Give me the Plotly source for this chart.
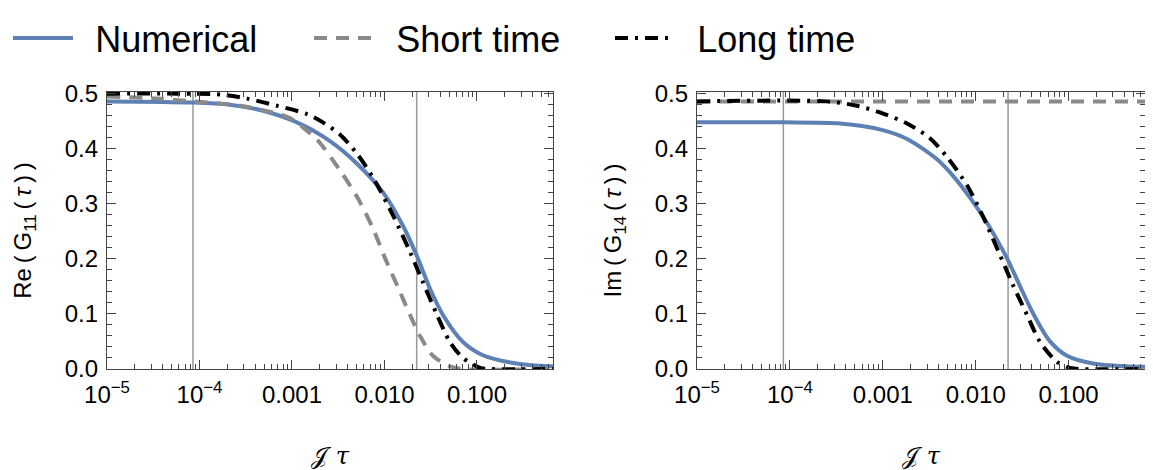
import plotly.graph_objects as go

# ---------------- data ----------------
# Left panel: Re(G11(tau))
tau_num_L = [1e-5, 8.5e-5, 2.14e-4, 4.86e-4, 1.13e-3, 2.58e-3, 5.05e-3, 9.64e-3,
             1.58e-2, 2.24e-2, 3.1e-2, 4.29e-2, 7.06e-2, 0.116, 0.245, 0.615, 0.664]
val_num_L = [0.485, 0.483, 0.479, 0.468, 0.447, 0.413, 0.372, 0.320,
             0.260, 0.205, 0.146, 0.098, 0.049, 0.025, 0.011, 0.005, 0.005]

tau_short_L = [1e-5, 3.47e-5, 8.5e-5, 2.74e-4, 6.89e-4, 9.5e-4, 1.31e-3, 1.91e-3, 3.3e-3,
               5.05e-3, 7.5e-3, 1.02e-2, 1.4e-2, 1.89e-2, 2.42e-2, 3.34e-2, 5.1e-2, 7.08e-2, 0.664]
val_short_L = [0.494, 0.490, 0.485, 0.477, 0.463, 0.455, 0.438, 0.414, 0.360,
               0.312, 0.255, 0.200, 0.148, 0.098, 0.060, 0.024, 0.005, 0.0, 0.0]

tau_long_L = [1e-5, 6.15e-5, 1.8e-4, 3.27e-4, 6.89e-4, 1.45e-3, 2.16e-3, 3.3e-3, 5.05e-3,
              7.5e-3, 1.24e-2, 1.89e-2, 2.61e-2, 3.7e-2, 5.1e-2, 7.06e-2, 0.108, 0.138, 0.664]
val_long_L = [0.499, 0.499, 0.497, 0.490, 0.477, 0.462, 0.447, 0.425, 0.390,
              0.347, 0.278, 0.212, 0.157, 0.098, 0.049, 0.020, 0.002, 0.0, 0.0]

# Right panel: Im(G14(tau))
tau_num_R = [1e-5, 8.4e-5, 3.46e-4, 1.0e-3, 1.87e-3, 3.83e-3, 5.7e-3, 8.9e-3, 1.32e-2,
             1.83e-2, 2.23e-2, 3.0e-2, 4.14e-2, 6.3e-2, 9.6e-2, 0.183, 0.545, 0.664]
val_num_R = [0.447, 0.447, 0.445, 0.433, 0.416, 0.380, 0.350, 0.308, 0.265,
             0.224, 0.197, 0.150, 0.101, 0.050, 0.024, 0.010, 0.004, 0.004]

tau_short_R = [1e-5, 0.664]
val_short_R = [0.485, 0.485]

tau_long_R = [1e-5, 2.5e-4, 5.27e-4, 9.3e-4, 1.82e-3, 3.22e-3, 5.03e-3, 8.26e-3, 1.2e-2,
              1.83e-2, 2.52e-2, 3.57e-2, 4.92e-2, 7.5e-2, 0.1035, 0.133, 0.664]
val_long_R = [0.485, 0.485, 0.477, 0.465, 0.445, 0.418, 0.382, 0.330, 0.276,
              0.206, 0.152, 0.098, 0.049, 0.013, 0.002, 0.0, 0.0]

# vertical reference lines (tau values)
vlines = [8.5e-5, 2.23e-2]

# tick labels
x_tickvals = [1e-5, 1e-4, 1e-3, 1e-2, 1e-1]
x_ticktext = ["10<sup>\u22125</sup>", "10<sup>\u22124</sup>", "0.001", "0.010", "0.100"]
x_minor_ticks = [2e-5, 3e-5, 4e-5, 5e-5, 6e-5, 7e-5, 8e-5, 9e-5,
                 2e-4, 3e-4, 4e-4, 5e-4, 6e-4, 7e-4, 8e-4, 9e-4,
                 2e-3, 3e-3, 4e-3, 5e-3, 6e-3, 7e-3, 8e-3, 9e-3,
                 2e-2, 3e-2, 4e-2, 5e-2, 6e-2, 7e-2, 8e-2, 9e-2,
                 0.2, 0.3, 0.4, 0.5, 0.6]

series_names = ["Numerical", "Short time", "Long time"]
y_titles = ["Re\u2009(\u2009G<sub>11</sub>\u2009(\u2009<i>\u03c4</i>\u2009)\u2009)",
            "Im\u2009(\u2009G<sub>14</sub>\u2009(\u2009<i>\u03c4</i>\u2009)\u2009)"]
x_title = "\U0001D4A5 <i>\u03c4</i>"

# ---------------- styling ----------------
BLUE = "#5E81B5"
GRAY = "#8a8a8a"
BLACK = "#000000"
FRAME = "#444444"
FONT = "Liberation Sans, Arial, sans-serif"
X_RANGE = [-5, -0.178]
Y_RANGE = [0, 0.502]
GAP = "\u00a0\u2009"

# the page body adds an 8px offset; the figure is laid out to compensate
W, H = 1145, 462

fig = go.Figure()

panels = [
    ("x", "y", "x3", tau_num_L, val_num_L, tau_short_L, val_short_L, tau_long_L, val_long_L, True),
    ("x2", "y2", "x4", tau_num_R, val_num_R, tau_short_R, val_short_R, tau_long_R, val_long_R, False),
]

for xa, ya, xm, tn, vn, ts, vs, tl, vl, legend in panels:
    for v in vlines:
        fig.add_trace(go.Scatter(x=[v, v], y=Y_RANGE, mode="lines", xaxis=xa, yaxis=ya,
                                 line=dict(color="#999999", width=1.5), showlegend=False,
                                 hoverinfo="skip"))
    fig.add_trace(go.Scatter(x=tn, y=vn, mode="lines", name=GAP + series_names[0], xaxis=xa, yaxis=ya,
                             line=dict(color=BLUE, width=4, shape="spline", smoothing=0.8),
                             showlegend=legend))
    fig.add_trace(go.Scatter(x=ts, y=vs, mode="lines", name=GAP + series_names[1], xaxis=xa, yaxis=ya,
                             line=dict(color=GRAY, width=4, dash="13px,9px", shape="spline", smoothing=0.8),
                             showlegend=legend))
    fig.add_trace(go.Scatter(x=tl, y=vl, mode="lines", name=GAP + series_names[2], xaxis=xa, yaxis=ya,
                             line=dict(color=BLACK, width=4, dash="13px,7px,3px,7px", shape="spline", smoothing=0.8),
                             showlegend=legend))
    # invisible anchor trace so the minor-tick overlay axis is drawn
    fig.add_trace(go.Scatter(x=[tn[0]], y=[vn[0]], mode="markers", xaxis=xm, yaxis=ya,
                             marker=dict(opacity=0, size=1), showlegend=False, hoverinfo="skip"))

xaxis_common = dict(
    type="log", range=X_RANGE, automargin=False,
    tickmode="array", tickvals=x_tickvals, ticktext=x_ticktext,
    ticks="inside", ticklen=9, tickwidth=1, tickcolor=FRAME,
    showline=True, linecolor=FRAME, linewidth=1.2, mirror="ticks",
    showgrid=False, zeroline=False,
    tickfont=dict(family=FONT, size=24, color="#000"),
    ticklabelstandoff=4,
    title=dict(text=x_title, font=dict(family="DejaVu Serif, Liberation Serif, serif", size=24, color="#000"),
               standoff=40),
)
xminor_common = dict(
    type="log", range=X_RANGE, automargin=False,
    tickmode="array", tickvals=x_minor_ticks, showticklabels=False,
    ticks="inside", ticklen=5, tickwidth=1, tickcolor=FRAME,
    showline=False, mirror="ticks", showgrid=False, zeroline=False,
)
yaxis_common = dict(
    range=Y_RANGE, automargin=False,
    tickmode="linear", tick0=0, dtick=0.1, tickformat=".1f",
    ticks="inside", ticklen=9, tickwidth=1, tickcolor=FRAME,
    showline=True, linecolor=FRAME, linewidth=1.2, mirror="ticks",
    showgrid=False, zeroline=False,
    tickfont=dict(family=FONT, size=24, color="#000"),
    ticklabelstandoff=3,
    minor=dict(ticks="inside", ticklen=5, tickcolor=FRAME, dtick=0.02, showgrid=False),
)

XDOM_L = [99 / W, 545 / W]
XDOM_R = [689 / W, 1137 / W]
YDOM = [1 - 361 / H, 1 - 84 / H]
fig.update_layout(
    width=W, height=H,
    margin=dict(l=0, r=0, t=0, b=0, autoexpand=False),
    paper_bgcolor="white", plot_bgcolor="white",
    font=dict(family=FONT, color="#000"),
    xaxis=dict(domain=XDOM_L, anchor="y", **xaxis_common),
    xaxis2=dict(domain=XDOM_R, anchor="y2", **xaxis_common),
    xaxis3=dict(domain=XDOM_L, anchor="y", overlaying="x", **xminor_common),
    xaxis4=dict(domain=XDOM_R, anchor="y2", overlaying="x2", **xminor_common),
    yaxis=dict(domain=YDOM, anchor="x",
               title=dict(text=y_titles[0], font=dict(family=FONT, size=24, color="#000"), standoff=26),
               **yaxis_common),
    yaxis2=dict(domain=YDOM, anchor="x2",
                title=dict(text=y_titles[1], font=dict(family=FONT, size=24, color="#000"), standoff=26),
                **yaxis_common),
    legend=dict(orientation="h", x=0, y=1.0, xanchor="left", yanchor="top",
                font=dict(family=FONT, size=36, color="#000"),
                itemwidth=60, entrywidth=226, entrywidthmode="pixels",
                bgcolor="rgba(0,0,0,0)"),
    showlegend=True,
)

fig.write_html("out.html")
